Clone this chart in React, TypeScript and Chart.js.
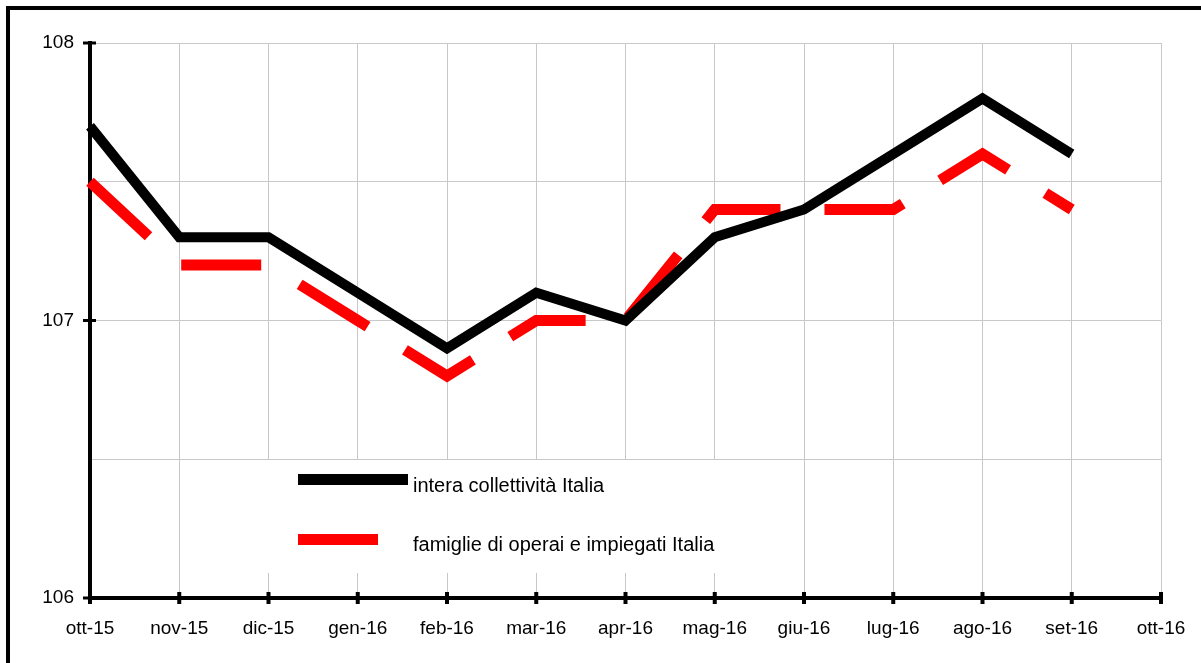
import React, { useEffect, useRef } from "react";
import { Chart, registerables } from "chart.js";

Chart.register(...registerables);

const categories = ["ott-15", "nov-15", "dic-15", "gen-16", "feb-16", "mar-16", "apr-16", "mag-16", "giu-16", "lug-16", "ago-16", "set-16", "ott-16"];
const interaCollettivita = [107.7, 107.3, 107.3, 107.1, 106.9, 107.1, 107.0, 107.3, 107.4, 107.6, 107.8, 107.6];
const famiglieOperai = [107.5, 107.2, 107.2, 107.0, 106.8, 107.0, 107.0, 107.4, 107.4, 107.4, 107.6, 107.4];
const seriesNames = ["intera collettività Italia", "famiglie di operai e impiegati Italia"];
const yMin = 106;
const yMax = 108;
const yStep = 0.5;

const FONT = 'Arial, "Liberation Sans", sans-serif';

const decorPlugin = {
  id: "decor",
  beforeDraw(chart: any) {
    const ctx = chart.ctx;
    ctx.save();
    ctx.fillStyle = "#ffffff";
    ctx.fillRect(0, 0, chart.width, chart.height);
    ctx.restore();
  },
  beforeDatasetsDraw(chart: any) {
    const ctx = chart.ctx;
    const { left, right, top, bottom } = chart.chartArea;
    const xs = chart.scales.x;
    const ys = chart.scales.y;
    ctx.save();
    // legend background box covering gridlines
    ctx.fillStyle = "#ffffff";
    ctx.fillRect(223, 460, 565, 113);
    ctx.strokeStyle = "#000000";
    ctx.lineWidth = 4;
    ctx.lineCap = "butt";
    // y axis
    ctx.beginPath();
    ctx.moveTo(left, top - 2);
    ctx.lineTo(left, bottom + 2);
    ctx.stroke();
    // x axis
    ctx.beginPath();
    ctx.moveTo(left - 2, bottom);
    ctx.lineTo(right + 2, bottom);
    ctx.stroke();
    // y ticks (integer values only)
    ctx.lineWidth = 3;
    ys.ticks.forEach((t: any) => {
      if (Math.abs(t.value - Math.round(t.value)) > 1e-6) return;
      const y = ys.getPixelForValue(t.value);
      ctx.beginPath();
      ctx.moveTo(left - 7, y);
      ctx.lineTo(left + 6, y);
      ctx.stroke();
    });
    // x ticks
    ctx.lineWidth = 4;
    categories.forEach((_c, i) => {
      const x = xs.getPixelForValue(i);
      ctx.beginPath();
      ctx.moveTo(x, bottom - 6);
      ctx.lineTo(x, bottom + 6);
      ctx.stroke();
    });
    ctx.restore();
  },
  afterDraw(chart: any) {
    const ctx = chart.ctx;
    ctx.save();
    // legend samples
    ctx.fillStyle = "#000000";
    ctx.fillRect(298, 474, 110, 11);
    ctx.fillStyle = "#ff0000";
    ctx.fillRect(298, 534, 80, 11);
    ctx.fillStyle = "#000000";
    ctx.font = `20px ${FONT}`;
    ctx.textBaseline = "alphabetic";
    ctx.textAlign = "left";
    ctx.fillText(seriesNames[0], 413, 492);
    ctx.fillText(seriesNames[1], 413, 551);
    // outer frame
    ctx.strokeStyle = "#000000";
    ctx.lineWidth = 4;
    ctx.strokeRect(8, 8, chart.width + 20, chart.height + 20);
    ctx.restore();
  },
};

export default function App() {
  const ref = useRef<HTMLCanvasElement>(null);
  useEffect(() => {
    if (!ref.current) return;
    const chart = new Chart(ref.current, {
      type: "line",
      data: {
        labels: categories,
        datasets: [
          {
            label: seriesNames[0],
            data: interaCollettivita,
            borderColor: "#000000",
            borderWidth: 10,
            pointRadius: 0,
            tension: 0,
            borderJoinStyle: "miter",
            borderCapStyle: "butt",
            fill: false,
          },
          {
            label: seriesNames[1],
            data: famiglieOperai,
            borderColor: "#ff0000",
            borderWidth: 11,
            borderDash: [80, 44],
            pointRadius: 0,
            tension: 0,
            borderJoinStyle: "miter",
            borderCapStyle: "butt",
            fill: false,
          },
        ],
      },
      options: {
        responsive: false,
        animation: false,
        events: [],
        layout: { padding: { left: 0, right: 40, top: 43, bottom: 0 } },
        plugins: { legend: { display: false }, tooltip: { enabled: false } },
        scales: {
          x: {
            type: "category",
            offset: false,
            grid: { color: "#c8c8c8", lineWidth: 1, drawTicks: false },
            border: { display: false },
            ticks: {
              color: "#000000",
              font: { family: FONT, size: 19 },
              padding: 19,
              maxRotation: 0,
              autoSkip: false,
            },
            afterFit(scale: any) {
              scale.height = 65;
              scale.paddingLeft = 0;
              scale.paddingRight = 0;
            },
          },
          y: {
            min: yMin,
            max: yMax,
            grid: { color: "#c8c8c8", lineWidth: 1, drawTicks: false },
            border: { display: false },
            ticks: {
              stepSize: yStep,
              color: "#000000",
              font: { family: FONT, size: 19 },
              padding: 16,
              callback: (v: any) => (Math.abs(v - Math.round(v)) < 1e-6 ? String(Math.round(v)) : ""),
            },
            afterFit(scale: any) {
              scale.width = 90;
              scale.paddingTop = 0;
              scale.paddingBottom = 0;
            },
          },
        },
      },
      plugins: [decorPlugin],
    });
    return () => chart.destroy();
  }, []);
  return (
    <div style={{ position: "fixed", left: 0, top: 0, width: 1201, height: 663, background: "#fff" }}>
      <canvas ref={ref} width={1201} height={663} style={{ display: "block", width: 1201, height: 663 }} />
    </div>
  );
}
